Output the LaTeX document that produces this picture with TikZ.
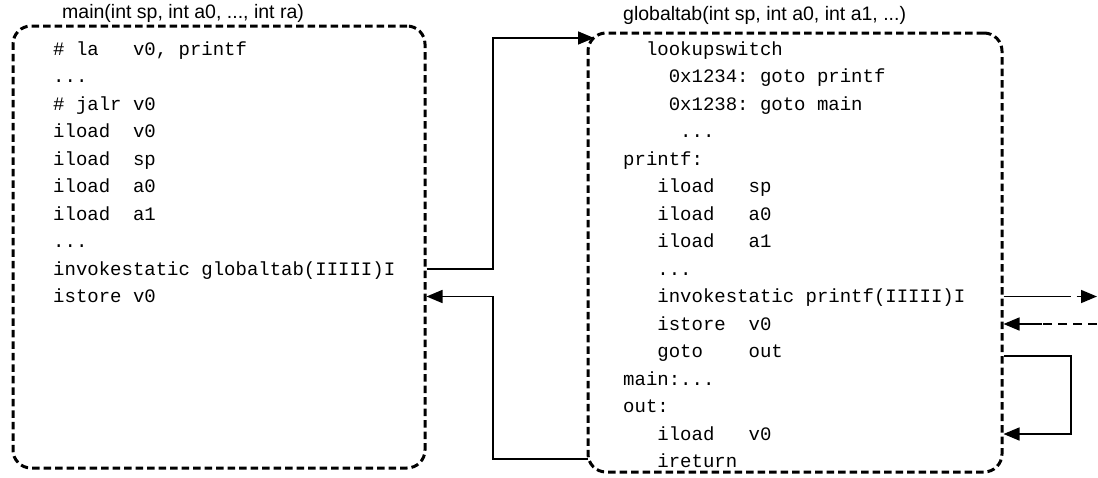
\documentclass[tikz,border=0pt]{standalone}
\usepackage{fontspec}
\setmainfont{Liberation Sans}
\setsansfont{Liberation Sans}
\setmonofont{Liberation Mono}
\usetikzlibrary{arrows.meta,calc}
\begin{document}
\begin{tikzpicture}[x=1pt,y=-1pt,
  box/.style={draw, line width=3pt, dash pattern=on 7.5pt off 4pt, rounded corners=18pt, inner sep=0pt},
  code/.style={anchor=west, inner sep=0pt, font=\fontsize{19}{19}\ttfamily, text height=13pt, text depth=1pt},
  title/.style={anchor=base west, inner sep=0pt, font=\fontsize{19.5}{19.5}\sffamily},
  conn/.style={line width=1.6pt},
  arr/.style={-{Triangle[length=16pt,width=13pt]}},
  dsh/.style={dash pattern=on 9pt off 6pt}
]
\useasboundingbox (0,0) rectangle (1098,477);
% boxes
\node[box, minimum width=412pt, minimum height=442pt] (mbox) at (219,247) {};
\node[box, minimum width=414pt, minimum height=439pt] (rbox) at (795,252.5) {};
% titles
\node[title] (tmain) at (62,18) {main(int sp, int a0, ..., int ra)};
\node[title] (tglob) at (623,20) {globaltab(int sp, int a0, int a1, ...)};
% left code
\node[code] (l0) at (53,49) {\#~la~~~v0,~printf};
\node[code] (l1) at (53,76.5) {...};
\node[code] (l2) at (53,104) {\#~jalr~v0};
\node[code] (l3) at (53,131.5) {iload~~v0};
\node[code] (l4) at (53,159) {iload~~sp};
\node[code] (l5) at (53,186.5) {iload~~a0};
\node[code] (l6) at (53,214) {iload~~a1};
\node[code] (l7) at (53,241.5) {...};
\node[code] (l8) at (53,269) {invokestatic~globaltab(IIIII)I};
\node[code] (l9) at (53,296.5) {istore~v0};
% right code
\node[code] (r0) at (623,49) {~~lookupswitch};
\node[code] (r1) at (623,76.5) {~~~~0x1234:~goto~printf};
\node[code] (r2) at (623,104) {~~~~0x1238:~goto~main};
\node[code] (r3) at (623,131.5) {~~~~~...};
\node[code] (r4) at (623,159) {printf:};
\node[code] (r5) at (623,186.5) {~~~iload~~~sp};
\node[code] (r6) at (623,214) {~~~iload~~~a0};
\node[code] (r7) at (623,241.5) {~~~iload~~~a1};
\node[code] (r8) at (623,269) {~~~...};
\node[code] (r9) at (623,296.5) {~~~invokestatic~printf(IIIII)I};
\node[code] (r10) at (623,324) {~~~istore~~v0};
\node[code] (r11) at (623,351.5) {~~~goto~~~~out};
\node[code] (r12) at (623,379) {main:...};
\node[code] (r13) at (623,406.5) {out:};
\node[code] (r14) at (623,434) {~~~iload~~~v0};
\node[code] (r15) at (623,461.5) {~~~ireturn};
% helper coordinates
\coordinate (jx) at (493,0);
\coordinate (entry) at (594,38);
\coordinate (exit) at (588,459);
\coordinate (ox) at (1097,0);
\coordinate (lx) at (1071,0);
% call main -> globaltab
\draw[conn, arr] (mbox.east |- l8) -| (jx |- entry) -- (entry);
% return globaltab -> main
\draw[conn, arr] (exit) -| (jx |- l9) -- (mbox.east |- l9);
% call printf (outgoing)
\draw[conn] (rbox.east |- r9) -- ++(58,0) coordinate (m1);
\draw[conn, dsh, arr] (m1) -- (ox |- r9);
% return from printf
\draw[conn, dsh] (ox |- r10) -- ++(-55,0) coordinate (m2);
\draw[conn, arr] (m2) -- (rbox.east |- r10);
% goto out loop
\draw[conn, arr] ($(rbox.east |- r11)+(0,4.5)$) -| (lx |- r14) -- (rbox.east |- r14);
\end{tikzpicture}
\end{document}
